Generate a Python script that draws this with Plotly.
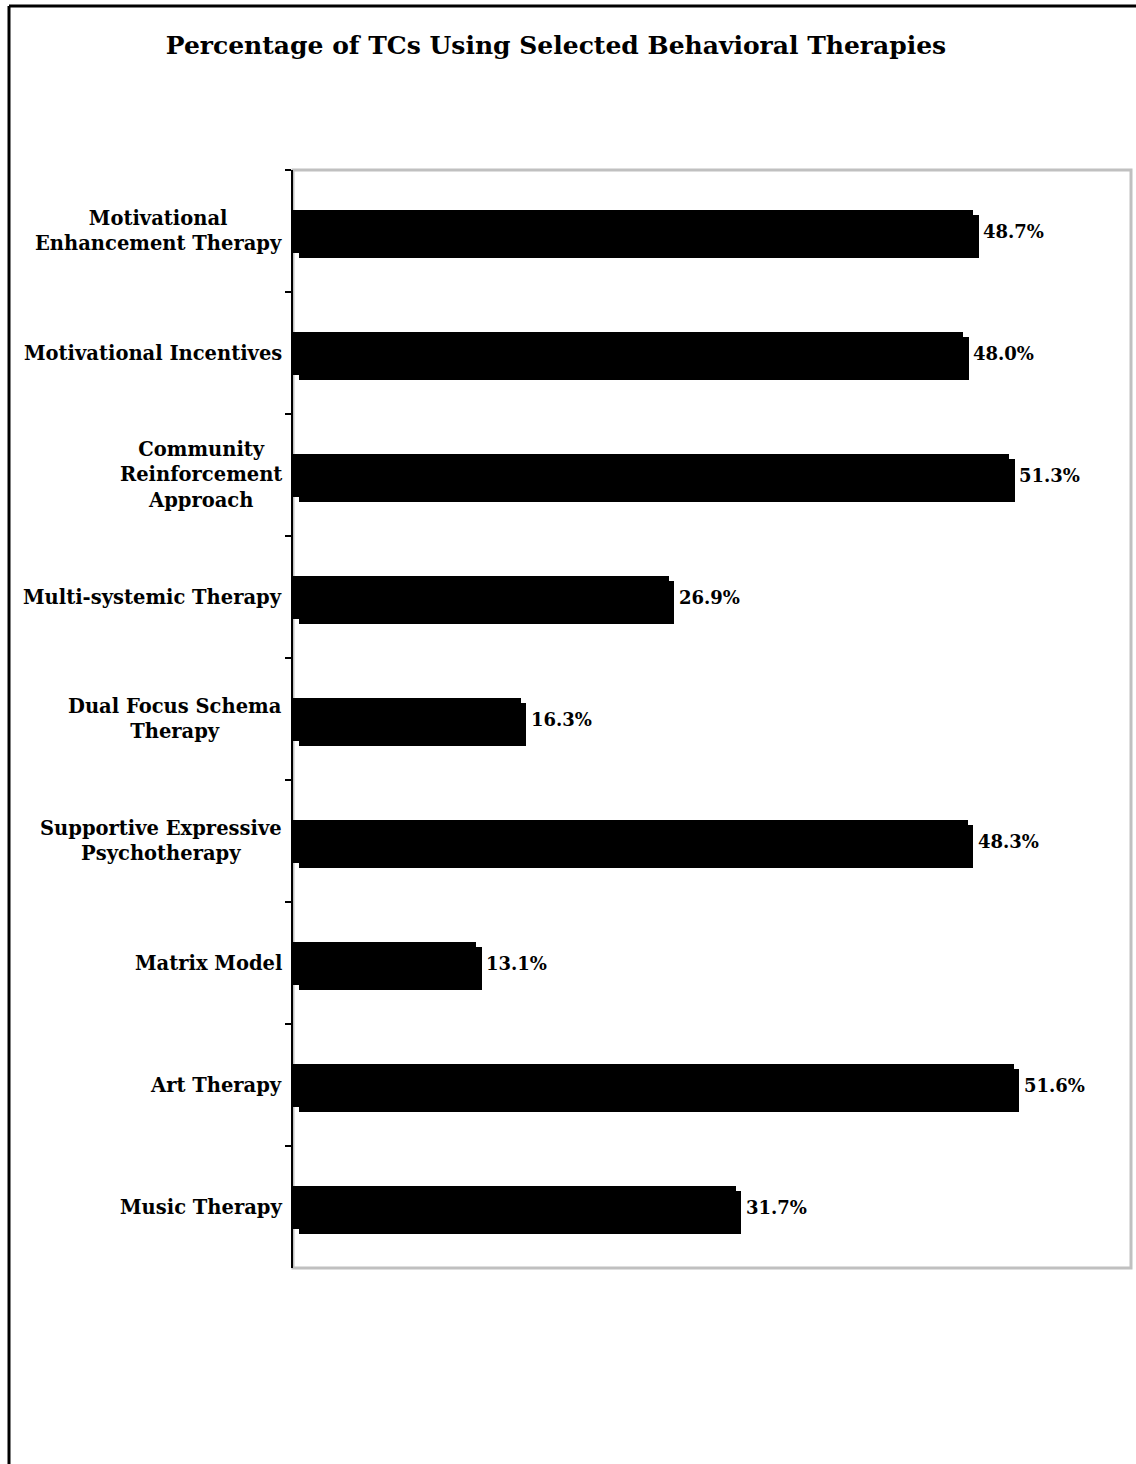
import plotly.graph_objects as go

categories = [
    "Motivational<br>Enhancement Therapy",
    "Motivational Incentives",
    "Community<br>Reinforcement<br>Approach",
    "Multi-systemic Therapy",
    "Dual Focus Schema<br>Therapy",
    "Supportive Expressive<br>Psychotherapy",
    "Matrix Model",
    "Art Therapy",
    "Music Therapy",
]
values = [48.7, 48.0, 51.3, 26.9, 16.3, 48.3, 13.1, 51.6, 31.7]
value_labels = ["48.7%", "48.0%", "51.3%", "26.9%", "16.3%", "48.3%", "13.1%", "51.6%", "31.7%"]

W, H = 1136, 1464
L, R, T, B = 293, 5, 170, 196
pw, ph = W - L - R, H - T - B

def px_x(px):
    return (px - L) / pw

def px_y(py):
    return (H - B - py) / ph

FONT = "DejaVu Serif"
bw = 43 / (ph / len(categories))
shift = 5 / (ph / len(categories))

fig = go.Figure()
# back face
fig.add_trace(go.Bar(
    y=categories, x=values, orientation="h",
    marker=dict(color="black", line=dict(width=0)),
    width=bw, offset=-bw / 2, hoverinfo="skip", showlegend=False,
))
# front face (shifted for pseudo-3D look)
fig.add_trace(go.Bar(
    y=categories, x=values, base=0.4, orientation="h",
    marker=dict(color="black", line=dict(width=0)),
    width=bw, offset=-bw / 2 + shift, hoverinfo="skip", showlegend=False,
))

annotations = []
for c, v, t in zip(categories, values, value_labels):
    annotations.append(dict(
        x=v, y=c, xref="x", yref="y", text="<b>" + t + "</b>",
        showarrow=False, xanchor="left", yanchor="middle", xshift=8,
        font=dict(family=FONT, size=18, color="black"),
    ))
    annotations.append(dict(
        x=0, y=c, xref="paper", yref="y", text="<b>" + c + "</b>",
        showarrow=False, xanchor="right", yanchor="middle", align="center",
        xshift=-9, font=dict(family=FONT, size=19.5, color="black"),
    ))

shapes = [
    dict(type="rect", xref="paper", yref="paper", x0=0, x1=1, y0=0, y1=1,
         line=dict(color="#c0c0c0", width=3), layer="below"),
    dict(type="line", xref="paper", yref="paper", x0=px_x(9), x1=px_x(9),
         y0=px_y(6), y1=px_y(1480), line=dict(color="black", width=3)),
    dict(type="line", xref="paper", yref="paper", x0=px_x(9), x1=px_x(1150),
         y0=px_y(6), y1=px_y(6), line=dict(color="black", width=3)),
]

fig.update_layout(
    width=W, height=H,
    margin=dict(l=L, r=R, t=T, b=B, pad=0),
    paper_bgcolor="white", plot_bgcolor="white",
    barmode="overlay", bargap=0,
    title=dict(
        text="<b>Percentage of TCs Using Selected Behavioral Therapies</b>",
        x=556 / W, xanchor="center", y=1 - 45 / H, yanchor="middle",
        font=dict(family=FONT, size=25, color="black"),
    ),
    xaxis=dict(range=[0, 60], showticklabels=False, showgrid=False,
               zeroline=False, ticks="", showline=False, fixedrange=True),
    yaxis=dict(autorange="reversed", showticklabels=False, showgrid=False,
               zeroline=False, showline=True, linecolor="black", linewidth=2,
               ticks="outside", ticklen=6, tickwidth=2, tickcolor="black",
               tickson="boundaries"),
    annotations=annotations,
    shapes=shapes,
    showlegend=False,
)

fig.write_html("out.html")
